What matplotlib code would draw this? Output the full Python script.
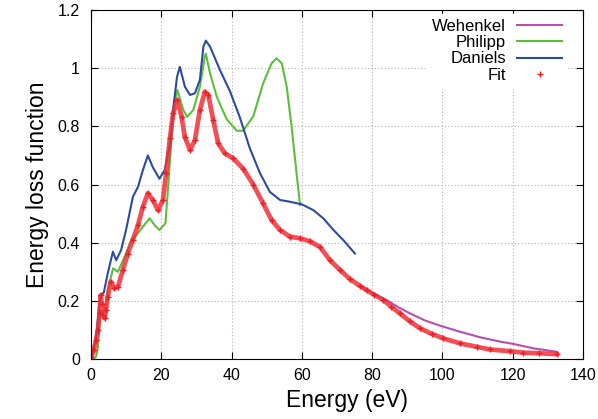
import numpy as np
import matplotlib
matplotlib.use('Agg')
import matplotlib.pyplot as plt

plt.rcParams['font.family'] = ['Liberation Sans', 'DejaVu Sans']

# Daniels
e_dan = [0.3, 1.2, 1.8, 2.3, 2.75, 3.7, 4.8, 6.26, 7.2, 8.6, 10.0, 11.95, 13.4, 14.8, 16.2,
         17.6, 19.5, 21.0, 22.5, 23.5, 24.5, 25.3, 26.75, 28.2, 29.6, 31.0, 32.0, 32.7, 33.9,
         36.7, 39.6, 42.4, 45.2, 48.1, 50.9, 53.8, 56.6, 60.0, 63.3, 66.1, 69.0, 71.8, 75.1]
y_dan = [0.01, 0.06, 0.11, 0.18, 0.214, 0.23, 0.295, 0.369, 0.34, 0.375, 0.444, 0.558, 0.592, 0.65, 0.70,
         0.66, 0.62, 0.65, 0.74, 0.87, 0.97, 1.005, 0.936, 0.908, 0.914, 0.96, 1.074, 1.095, 1.074,
         0.994, 0.92, 0.83, 0.725, 0.639, 0.575, 0.547, 0.541, 0.532, 0.512, 0.484, 0.444, 0.409, 0.363]

# Philipp
e_phi = [0.8, 1.5, 2.0, 2.5, 2.9, 3.9, 4.8, 6.3, 7.7, 9.6, 11.5, 12.9, 14.8, 16.7, 18.1, 19.5,
         21.2, 21.9, 22.9, 23.8, 24.6, 26.3, 27.4, 29.1, 31.0, 32.4, 32.7, 33.9, 35.8, 38.6,
         41.5, 43.3, 46.2, 49.0, 51.4, 52.8, 54.3, 55.7, 57.1, 58.5, 59.5]
y_phi = [0.0, 0.01, 0.04, 0.134, 0.168, 0.163, 0.237, 0.312, 0.30, 0.352, 0.409, 0.426, 0.455, 0.484, 0.461, 0.444,
         0.467, 0.58, 0.753, 0.88, 0.925, 0.856, 0.833, 0.856, 0.936, 1.04, 1.05, 0.982, 0.902, 0.825,
         0.785, 0.785, 0.835, 0.948, 1.017, 1.034, 1.017, 0.936, 0.799, 0.639, 0.53]

# Wehenkel
e_weh = [76.5, 80.5, 84.1, 87.5, 90.8, 95.0, 99.3, 105.0, 110.7, 116.4, 120.2, 125.9, 132.5]
y_weh = [0.252, 0.224, 0.203, 0.178, 0.157, 0.133, 0.115, 0.094, 0.075, 0.06, 0.052, 0.037, 0.025]

# Fit
e_fit = [0.1, 0.8, 1.5, 2.0, 2.5, 2.8, 3.1, 3.4, 3.9, 4.3, 4.8, 5.6, 6.7, 7.7, 9.1, 10.5, 11.9,
         13.4, 14.8, 16.2, 17.6, 19.1, 20.5, 21.4, 22.5, 23.4, 24.6, 25.8, 26.7, 28.2, 29.6,
         31.0, 32.4, 33.4, 34.8, 36.2, 38.1, 40.5, 43.3, 46.2, 49.0, 51.4, 53.8, 56.6, 59.5,
         62.3, 65.2, 68.0, 70.9, 73.7, 76.5, 78.4, 80.5, 83.2, 85.5, 87.9, 90.7, 93.6, 96.9,
         100.3, 105.0, 109.8, 113.5, 119.2, 123.0, 127.5, 132.5]
y_fit = [0.008, 0.03, 0.065, 0.1, 0.16, 0.22, 0.19, 0.15, 0.14, 0.17, 0.214, 0.266, 0.243, 0.249, 0.306, 0.363, 0.409,
         0.461, 0.524, 0.57, 0.547, 0.512, 0.547, 0.639, 0.76, 0.845, 0.89, 0.833, 0.764, 0.719, 0.753,
         0.856, 0.919, 0.908, 0.822, 0.742, 0.707, 0.69, 0.655, 0.6, 0.535, 0.478, 0.444, 0.421, 0.415,
         0.405, 0.385, 0.34, 0.306, 0.275, 0.252, 0.237, 0.222, 0.203, 0.18, 0.157, 0.13, 0.106, 0.087,
         0.071, 0.054, 0.042, 0.033, 0.027, 0.022, 0.02, 0.017]

xticks = [0, 20, 40, 60, 80, 100, 120, 140]
yticks = [0, 0.2, 0.4, 0.6, 0.8, 1, 1.2]
ylabels = ['0', '0.2', '0.4', '0.6', '0.8', '1', '1.2']

fig = plt.figure(figsize=(5.98, 4.19), dpi=100)
ax = fig.add_axes([0.152, 0.143, 0.823, 0.833])

ax.plot(e_weh, y_weh, color='#b64fb0', lw=1.5, label='Wehenkel')
ax.plot(e_phi, y_phi, color='#5cbf3b', lw=1.5, label='Philipp')
ax.plot(e_dan, y_dan, color='#2d4c9e', lw=1.5, label='Daniels')
ax.plot(e_fit, y_fit, color='#f0303a', lw=3.4, alpha=0.85)
ax.plot(e_fit, y_fit, ls='none', marker='+', ms=4.5, mew=1.0, color='#f01c24', label='Fit')

ax.set_xlim(0, 140)
ax.set_ylim(0, 1.2)
ax.set_xticks(xticks)
ax.set_yticks(yticks)
ax.set_yticklabels(ylabels)
ax.tick_params(direction='in', top=True, right=True, length=5, labelsize=11.5)
ax.tick_params(axis='x', pad=6.5)
ax.tick_params(axis='y', pad=8)
ax.grid(True, color='#b0b0b0', ls=(0, (1, 2)), lw=0.8)
ax.set_axisbelow(True)
ax.set_xlabel('Energy (eV)', fontsize=16.5, labelpad=3)
ax.xaxis.set_label_coords(0.52, -0.085)
ax.set_ylabel('Energy loss function', fontsize=16.5, labelpad=6)

leg = ax.legend(loc='upper right', bbox_to_anchor=(0.9675, 0.9885), markerfirst=False,
                fontsize=12, frameon=True, fancybox=False, framealpha=1,
                edgecolor='white', facecolor='white', handlelength=2.7,
                handletextpad=0.66, labelspacing=0.07, numpoints=1,
                borderaxespad=0, borderpad=0.3)

fig.savefig('out.png', dpi=100)
